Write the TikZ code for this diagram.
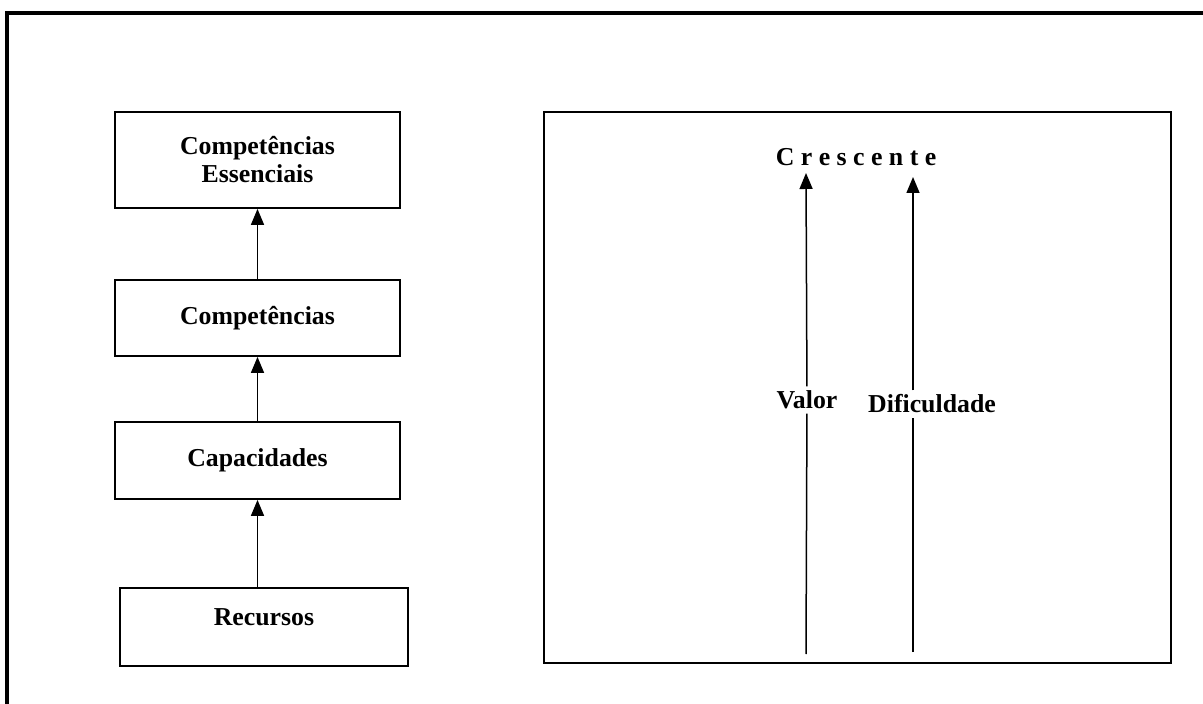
\documentclass[tikz,border=0pt]{standalone}
\usepackage{fontspec}
\setmainfont{Liberation Serif}
\usepackage{tikz}
\usetikzlibrary{arrows.meta}
\tikzset{>={Triangle[length=8pt,width=6.5pt]}}
\tikzset{
  bloco/.style={draw, line width=0.9pt, minimum width=142.5pt, inner sep=0pt,
    align=center, font=\bfseries\fontsize{12.9}{14}\selectfont},
  rotulo/.style={fill=white, inner sep=2pt, font=\bfseries\fontsize{12.9}{14}\selectfont},
  seta/.style={->, line width=0.75pt}
}

\begin{document}
\begin{tikzpicture}[x=0.5pt, y=-0.5pt]
        \useasboundingbox (0, 0) rectangle (1203, 704);
        % moldura
        \draw[line width=1.6pt] (7, 704) -- (7, 13) -- (1203, 13);
        % hierarquia
        \node[bloco, minimum height=48pt] (ess) at (257.5, 160) {Competências\\Essenciais};
        \node[bloco, minimum height=38pt] (comp) at (257.5, 318) {Competências};
        \node[bloco, minimum height=38.5pt] (cap) at (257.5, 460.5) {Capacidades};
        \node[bloco, minimum width=144pt, minimum height=39pt, text depth=10pt] (rec) at (264, 627) {Recursos};
        \draw[seta] (rec.north -| cap) -- (cap.south);
        \draw[seta] (cap.north) -- (comp.south);
        \draw[seta] (comp.north) -- (ess.south);
        % quadro da direita
        \draw[line width=0.9pt] (544, 112) rectangle (1171, 663);
        \node[rotulo] (cres) at (856, 157) {C r e s c e n t e};
        \coordinate (v0) at (806, 654);
        \coordinate (vtop) at (806, 173);
        \coordinate (d0) at (913, 652);
        \coordinate (dtop) at (913, 177);
        \node[rotulo] (valor) at (807, 400) {Valor};
        \node[rotulo] (dif) at (932, 404) {Dificuldade};
        \draw[line width=0.75pt] (v0) -- (valor);
        \draw[seta] (valor) -- (vtop);
        \draw[line width=0.75pt] (d0) -- (dif.south -| d0);
        \draw[seta] (dif.north -| d0) -- (dtop);
\end{tikzpicture}
\end{document}
